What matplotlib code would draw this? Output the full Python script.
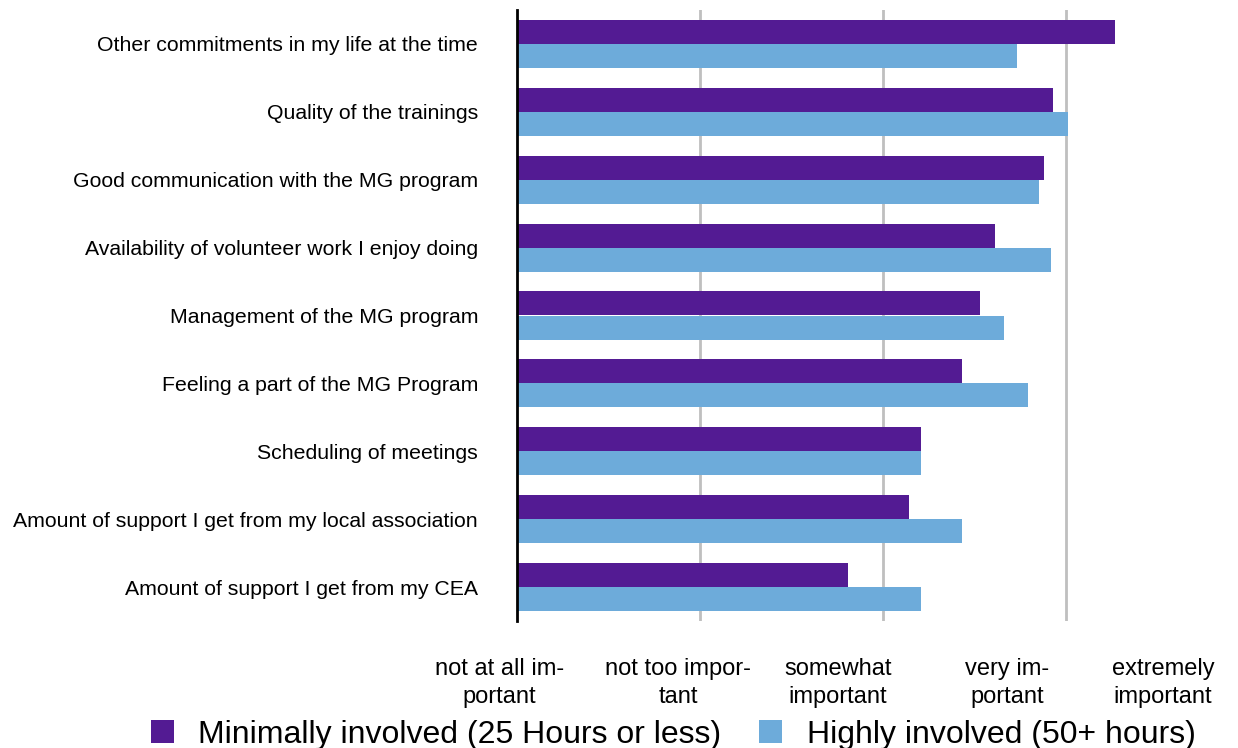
import matplotlib
matplotlib.use("Agg")
import matplotlib.pyplot as plt
from matplotlib.patches import Patch
import matplotlib.transforms as mtransforms
import numpy as np

categories = [
    "Other commitments in my life at the time",
    "Quality of the trainings",
    "Good communication with the MG program",
    "Availability of volunteer work I enjoy doing",
    "Management of the MG program",
    "Feeling a part of the MG Program",
    "Scheduling of meetings",
    "Amount of support I get from my local association",
    "Amount of support I get from my CEA",
]
minimally = [4.27, 3.93, 3.88, 3.61, 3.53, 3.43, 3.21, 3.14, 2.81]
highly = [3.73, 4.01, 3.85, 3.92, 3.66, 3.79, 3.21, 3.43, 3.21]
series_names = ["Minimally involved (25 Hours or less)", "Highly involved (50+ hours)"]
scale_labels = ["not at all im-\nportant", "not too impor-\ntant", "somewhat\nimportant",
                "very im-\nportant", "extremely\nimportant"]
scale_label_pos = [0.905, 1.88, 2.755, 3.68, 4.53]

purple = "#531B93"
blue = "#6DABDA"

plt.rcParams['font.family'] = ['Liberation Sans', 'DejaVu Sans']

fig = plt.figure(figsize=(12.38, 7.48), dpi=100)
unit = 183.0
ax = fig.add_axes([517/1238, 1-621/748, (1236-517)/1238, (621-10)/748])

y = np.arange(len(categories))
h = 0.355
base = 1.0
ax.barh(y - h/2, np.array(minimally) - base, left=base, height=h, color=purple, zorder=3)
ax.barh(y + h/2, np.array(highly) - base, left=base, height=h, color=blue, zorder=3)

ax.set_ylim(len(categories) - 0.5, -0.5)
ax.set_xlim(1, 1 + (1236-517)/unit)
ax.set_yticks(y)
ax.set_yticklabels(categories, fontsize=15.3)
ax.tick_params(axis='y', length=0, pad=28)
ax.set_xticks([2, 3, 4])
ax.set_xticklabels([])
ax.tick_params(axis='x', length=0)
ax.grid(axis='x', color='#BFBFBF', linewidth=2, zorder=0)
for s in ['top', 'right', 'bottom']:
    ax.spines[s].set_visible(False)
ax.spines['left'].set_color('black')
ax.spines['left'].set_linewidth(2)
ax.spines['left'].set_zorder(4)

trans = mtransforms.blended_transform_factory(ax.transData, fig.transFigure)
for lab, xp in zip(scale_labels, scale_label_pos):
    ax.text(xp, 1-683/748, lab, transform=trans, ha='center', va='center',
            fontsize=17, linespacing=1.32, clip_on=False)

handles = [Patch(facecolor=purple, label=series_names[0]),
           Patch(facecolor=blue, label=series_names[1])]
fig.legend(handles=handles, loc='center', bbox_to_anchor=(673/1238, 1-735/748), ncol=2,
           frameon=False, prop={'size': 23}, handlelength=0.72,
           handleheight=0.72, handletextpad=0.78, columnspacing=1.16, borderaxespad=0,
           borderpad=0)

fig.savefig("out.png", dpi=100)
